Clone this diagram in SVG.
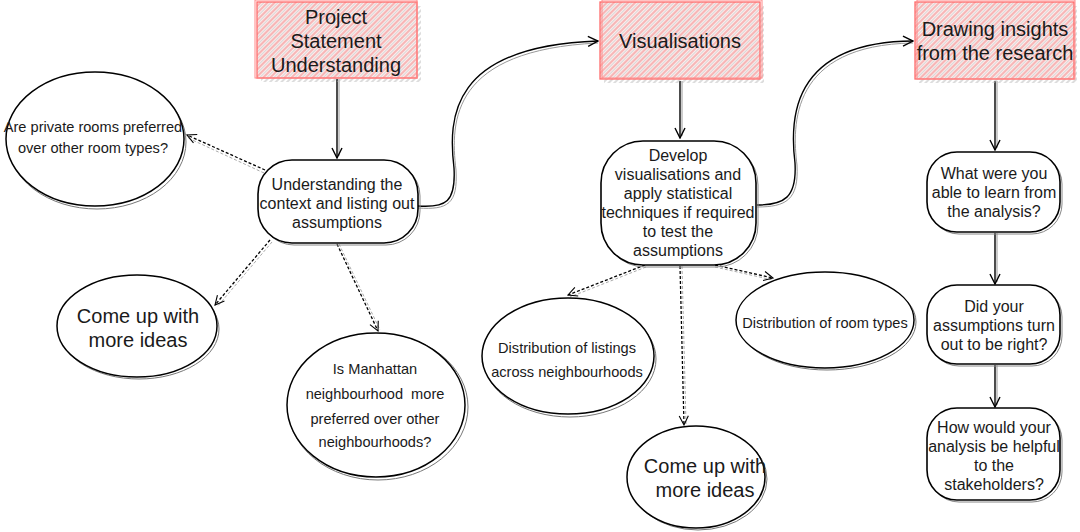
<svg xmlns="http://www.w3.org/2000/svg" width="1080" height="532" viewBox="0 0 1080 532">
<defs>
<pattern id="hatch" width="5" height="5" patternUnits="userSpaceOnUse" patternTransform="rotate(45)">
<rect width="5" height="5" fill="#fdeaea"/>
<line x1="1" y1="0" x2="1" y2="5" stroke="#f49a9a" stroke-width="1.3"/>
<line x1="3.5" y1="0" x2="3.5" y2="5" stroke="#d8d8d8" stroke-width="1"/>
</pattern>
<pattern id="shhatch" width="4" height="4" patternUnits="userSpaceOnUse" patternTransform="rotate(45)">
<line x1="1" y1="0" x2="1" y2="4" stroke="#bbbbbb" stroke-width="1"/>
</pattern>
<marker id="ah" viewBox="0 0 12 12" refX="11" refY="6" markerWidth="12" markerHeight="12" markerUnits="userSpaceOnUse" orient="auto">
<path d="M1,1 L11,6 L1,11" fill="none" stroke="#000" stroke-width="1.4"/>
</marker>
<marker id="ahs" viewBox="0 0 12 12" refX="11" refY="6" markerWidth="11" markerHeight="11" markerUnits="userSpaceOnUse" orient="auto">
<path d="M1,1 L11,6 L1,11" fill="none" stroke="#000" stroke-width="1.2"/>
</marker>
</defs>
<style>
text{font-family:"Liberation Sans",Arial,sans-serif;fill:#1a1a1a;text-anchor:middle;white-space:pre}
.big{font-size:20px}
.mid{font-size:16px}
.sm{font-size:14.6px}
.box{fill:url(#hatch);stroke:#ff6b6b;stroke-width:1.3}
.box2{fill:none;stroke:#ff8a8a;stroke-width:1}
.shadow{fill:url(#shhatch);stroke:none}
.node{fill:#fff;stroke:#000;stroke-width:1.6}
.node2{fill:none;stroke:#888;stroke-width:1}
.ell{fill:#fff;stroke:#000;stroke-width:1.5}
.ell2{fill:none;stroke:#777;stroke-width:1}
.conn{fill:none;stroke:#000;stroke-width:1.4}
.conn2{fill:none;stroke:#999;stroke-width:1}
.dash{fill:none;stroke:#000;stroke-width:1.3;stroke-dasharray:3 2}
.dash2{fill:none;stroke:#aaa;stroke-width:1;stroke-dasharray:3 2}
</style>

<g id="connectors">
<path class="conn2" d="M339,79 L339,156"/>
<path class="conn" d="M337,79 L337,158" marker-end="url(#ah)"/>
<path class="conn2" d="M418,208 C448,210 458,204 456,170 C450,120 452,50 598,43"/>
<path class="conn" d="M418,206 C446,208 456,202 454,168 C448,118 450,46 598,41" marker-end="url(#ah)"/>
<path class="conn2" d="M682,81 L682,136"/>
<path class="conn" d="M680,81 L680,138" marker-end="url(#ah)"/>
<path class="conn2" d="M757,207 C786,207 799,200 797,165 C792,125 790,45 913,43"/>
<path class="conn" d="M757,205 C784,205 797,198 795,163 C790,123 788,42 913,41" marker-end="url(#ah)"/>
<path class="conn2" d="M997,81 L997,148"/>
<path class="conn" d="M995,81 L995,150" marker-end="url(#ah)"/>
<path class="conn2" d="M997,233 L997,282"/>
<path class="conn" d="M995,233 L995,284" marker-end="url(#ah)"/>
<path class="conn2" d="M997,365 L997,405"/>
<path class="conn" d="M995,365 L995,407" marker-end="url(#ah)"/>
<path class="dash2" d="M264,173 L188,138"/>
<path class="dash" d="M265,170 L187,135" marker-end="url(#ahs)"/>
<path class="dash2" d="M272,242 L217,307"/>
<path class="dash" d="M270,240 L215,305" marker-end="url(#ahs)"/>
<path class="dash2" d="M339,244 L380,330"/>
<path class="dash" d="M337,244 L378,331" marker-end="url(#ahs)"/>
<path class="dash2" d="M646,267 L570,297"/>
<path class="dash" d="M645,265 L568,295" marker-end="url(#ahs)"/>
<path class="dash2" d="M715,267 L773,280"/>
<path class="dash" d="M715,265 L773,278" marker-end="url(#ahs)"/>
<path class="dash2" d="M682,266 L686,424"/>
<path class="dash" d="M680,266 L684,425" marker-end="url(#ahs)"/>
</g>

<g id="box-project">
<rect class="shadow" x="261" y="6" width="160" height="76"/>
<rect class="box" x="257" y="2" width="160" height="76"/>
<rect class="box2" x="255" y="0" width="162" height="78"/>
<text class="big" x="336" y="24">Project</text>
<text class="big" x="336" y="48">Statement</text>
<text class="big" x="336" y="72">Understanding</text>
</g>

<g id="box-vis">
<rect class="shadow" x="604" y="6" width="160" height="77"/>
<rect class="box" x="600" y="2" width="160" height="77"/>
<rect class="box2" x="602" y="0" width="160" height="78"/>
<text class="big" x="680" y="48">Visualisations</text>
</g>

<g id="box-draw">
<rect class="shadow" x="919" y="6" width="158" height="77"/>
<rect class="box" x="915" y="2" width="159" height="77"/>
<rect class="box2" x="917" y="0" width="158" height="79"/>
<text class="big" x="995" y="36">Drawing insights</text>
<text class="big" x="995" y="60">from the research</text>
</g>

<g id="node-understanding">
<rect class="node2" x="260" y="162" width="160" height="83" rx="34"/>
<rect class="node" x="258" y="160" width="160" height="83" rx="34"/>
<text class="mid" x="337" y="190">Understanding the</text>
<text class="mid" x="337" y="209">context and listing out</text>
<text class="mid" x="337" y="228">assumptions</text>
</g>

<g id="node-develop">
<rect class="node2" x="603" y="143" width="155" height="124" rx="42"/>
<rect class="node" x="601" y="141" width="155" height="124" rx="42"/>
<text class="mid" x="678" y="161">Develop</text>
<text class="mid" x="678" y="180">visualisations and</text>
<text class="mid" x="678" y="199">apply statistical</text>
<text class="mid" x="678" y="218">techniques if required</text>
<text class="mid" x="678" y="237">to test the</text>
<text class="mid" x="678" y="256">assumptions</text>
</g>

<g id="node-learn">
<rect class="node2" x="929" y="154" width="133" height="80" rx="30"/>
<rect class="node" x="927" y="152" width="133" height="80" rx="30"/>
<text class="mid" x="994" y="179">What were you</text>
<text class="mid" x="994" y="198">able to learn from</text>
<text class="mid" x="994" y="217">the analysis?</text>
</g>

<g id="node-right">
<rect class="node2" x="929" y="287" width="133" height="79" rx="30"/>
<rect class="node" x="927" y="285" width="133" height="79" rx="30"/>
<text class="mid" x="994" y="312">Did your</text>
<text class="mid" x="994" y="331">assumptions turn</text>
<text class="mid" x="994" y="350">out to be right?</text>
</g>

<g id="node-helpful">
<rect class="node2" x="929" y="410" width="133" height="92" rx="30"/>
<rect class="node" x="927" y="408" width="133" height="92" rx="30"/>
<text class="mid" x="994" y="433">How would your</text>
<text class="mid" x="994" y="452">analysis be helpful</text>
<text class="mid" x="994" y="471">to the</text>
<text class="mid" x="994" y="490">stakeholders?</text>
</g>

<g id="ell-private">
<ellipse class="ell2" cx="97" cy="142" rx="89" ry="67"/>
<ellipse class="ell" cx="95" cy="139" rx="89" ry="67"/>
<text class="sm" x="93" y="132">Are private rooms preferred</text>
<text class="sm" x="93" y="153">over other room types?</text>
</g>

<g id="ell-ideas1">
<ellipse class="ell2" cx="139" cy="329" rx="80" ry="50"/>
<ellipse class="ell" cx="137" cy="326" rx="80" ry="51"/>
<text class="big" x="138" y="323">Come up with</text>
<text class="big" x="138" y="347">more ideas</text>
</g>

<g id="ell-manhattan">
<ellipse class="ell2" cx="378" cy="407" rx="90" ry="73"/>
<ellipse class="ell" cx="376" cy="405" rx="89" ry="72"/>
<text class="sm" x="375" y="374">Is Manhattan</text>
<text class="sm" x="375" y="399">neighbourhood  more</text>
<text class="sm" x="375" y="424">preferred over other</text>
<text class="sm" x="375" y="447">neighbourhoods?</text>
</g>

<g id="ell-listings">
<ellipse class="ell2" cx="570" cy="359" rx="86" ry="58"/>
<ellipse class="ell" cx="568" cy="356" rx="86" ry="58"/>
<text class="sm" x="567" y="353">Distribution of listings</text>
<text class="sm" x="567" y="377">across neighbourhoods</text>
</g>

<g id="ell-roomtypes">
<ellipse class="ell2" cx="827" cy="322" rx="89" ry="48"/>
<ellipse class="ell" cx="825" cy="320" rx="89" ry="48"/>
<text class="sm" x="825" y="328">Distribution of room types</text>
</g>

<g id="ell-ideas2">
<ellipse class="ell2" cx="698" cy="479" rx="69" ry="51"/>
<ellipse class="ell" cx="696" cy="477" rx="69" ry="51"/>
<text class="big" x="705" y="473">Come up with</text>
<text class="big" x="705" y="497">more ideas</text>
</g>
</svg>
